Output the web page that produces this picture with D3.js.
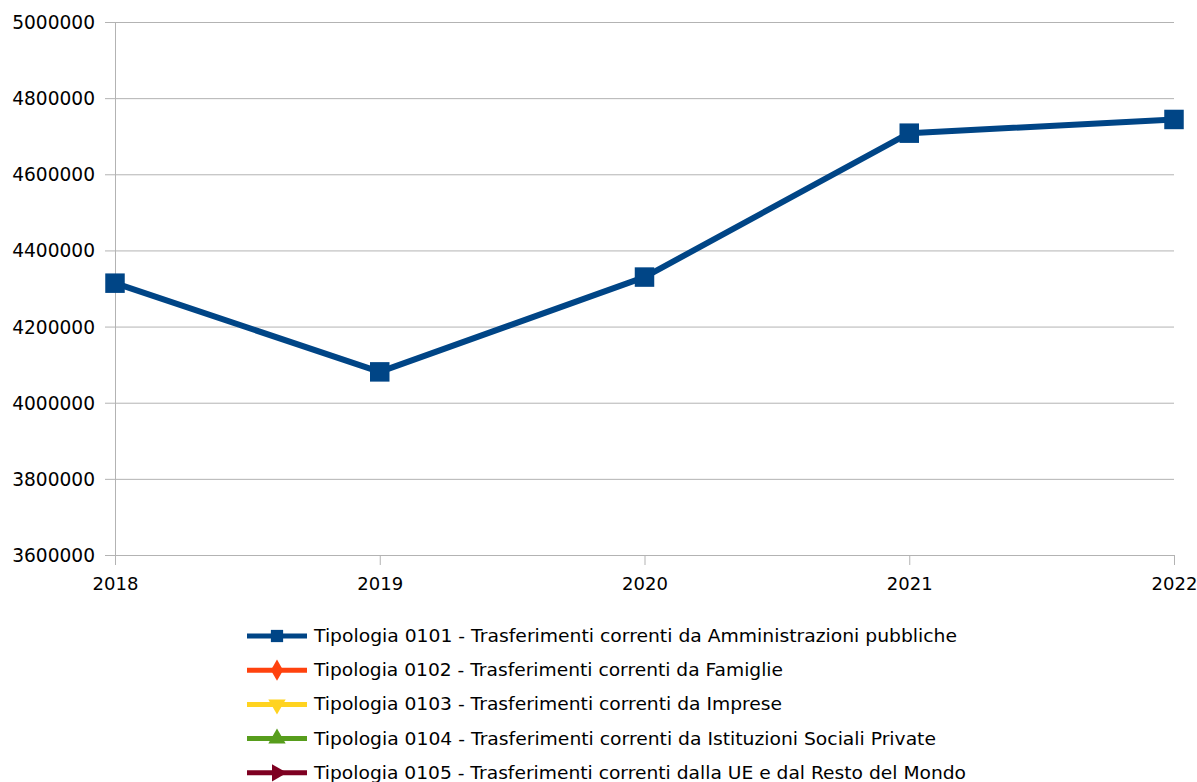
<!DOCTYPE html>
<html>
<head>
<meta charset="utf-8">
<script src="https://cdn.jsdelivr.net/npm/d3@7"></script>
<style>
	body { margin: 0; background: #fff; }
	svg { display: block; }
</style>
</head>
<body>
<svg id="chart" width="1197" height="782"></svg>
<script>
// chart data
const years = ["2018", "2019", "2020", "2021", "2022"];
const serie0101 = [4314000, 4081000, 4330000, 4708000, 4744000];
const serie0102 = [0, 0, 0, 0, 0];
const serie0103 = [0, 0, 0, 0, 0];
const serie0104 = [0, 0, 0, 0, 0];
const serie0105 = [0, 0, 0, 0, 0];
const yTicks = [3600000, 3800000, 4000000, 4200000, 4400000, 4600000, 4800000, 5000000];
const seriesNames = [
	"Tipologia 0101 - Trasferimenti correnti da Amministrazioni pubbliche",
	"Tipologia 0102 - Trasferimenti correnti da Famiglie",
	"Tipologia 0103 - Trasferimenti correnti da Imprese",
	"Tipologia 0104 - Trasferimenti correnti da Istituzioni Sociali Private",
	"Tipologia 0105 - Trasferimenti correnti dalla UE e dal Resto del Mondo"
];

const ctx = {
	left: 115, right: 1174, top: 22, bottom: 555,
	colors: ["#004586", "#ff420e", "#ffd320", "#579d1c", "#7e0021"],
	symbols: [d3.symbolSquare, d3.symbolDiamond, "down", d3.symbolTriangle, "right"],
	legendWidths: [643, 469, 468, 622, 652]
};
const allSeries = [serie0101, serie0102, serie0103, serie0104, serie0105];

let svg = d3.select("#chart");

let xscale = d3.scalePoint().domain(years).range([ctx.left, ctx.right]).padding(0);
let yscale = d3.scaleLinear().domain([3600000, 5000000]).range([ctx.bottom, ctx.top]);

svg.append("defs").append("clipPath").attr("id", "plotClip")
	.append("rect")
	.attr("x", ctx.left - 15).attr("y", ctx.top - 15)
	.attr("width", ctx.right - ctx.left + 30).attr("height", ctx.bottom - ctx.top + 15);

// y axis with grid
let yAxis = svg.append("g")
	.attr("transform", "translate(" + ctx.left + ",0)")
	.call(d3.axisLeft(yscale).tickValues(yTicks).tickSize(10).tickPadding(10).tickFormat(d3.format("d")));
yAxis.select(".domain").remove();
yAxis.selectAll(".tick line")
	.attr("x2", ctx.right - ctx.left)
	.attr("x1", -10)
	.attr("stroke", "#b3b3b3");
yAxis.selectAll(".tick text")
	.attr("font-family", "DejaVu Sans")
	.attr("font-size", 18.6)
	.attr("fill", "#000")
	.attr("dy", "0.35em");

// vertical axis line
svg.append("line")
	.attr("x1", ctx.left + 0.5).attr("x2", ctx.left + 0.5)
	.attr("y1", ctx.top).attr("y2", ctx.bottom + 10)
	.attr("stroke", "#b3b3b3");

// x axis
let xAxis = svg.append("g")
	.attr("transform", "translate(0," + ctx.bottom + ")")
	.call(d3.axisBottom(xscale).tickSize(10).tickPadding(12));
xAxis.select(".domain").remove();
xAxis.selectAll(".tick line").attr("stroke", "#b3b3b3");
xAxis.selectAll(".tick text")
	.attr("font-family", "DejaVu Sans")
	.attr("font-size", 18)
	.attr("fill", "#000");

function markerPath(sym, size) {
	if (sym === "down") {
		return d3.symbol(d3.symbolTriangle, size)().replace(/(-?[\d.]+),(-?[\d.]+)/g, (m, a, b) => a + "," + (-b));
	}
	if (sym === "right") {
		return d3.symbol(d3.symbolTriangle, size)().replace(/(-?[\d.]+),(-?[\d.]+)/g, (m, a, b) => (-b) + "," + a);
	}
	return d3.symbol(sym, size)();
}

// series
let plot = svg.append("g").attr("clip-path", "url(#plotClip)");
let line = d3.line().x((d, i) => xscale(years[i])).y(d => yscale(d));

allSeries.forEach(function (values, s) {
	plot.append("path")
		.datum(values)
		.attr("d", line)
		.attr("fill", "none")
		.attr("stroke", ctx.colors[s])
		.attr("stroke-width", 6)
		.attr("stroke-linejoin", "round");
	plot.selectAll(".m" + s)
		.data(values)
		.join("path")
		.attr("class", "m" + s)
		.attr("transform", (d, i) => "translate(" + xscale(years[i]) + "," + yscale(d) + ")")
		.attr("d", markerPath(ctx.symbols[s], 380))
		.attr("fill", ctx.colors[s]);
});

// legend
let legend = svg.append("g").attr("class", "legend");
seriesNames.forEach(function (name, s) {
	let y = 636 + s * 34.2;
	legend.append("line")
		.attr("x1", 247).attr("x2", 307)
		.attr("y1", y).attr("y2", y)
		.attr("stroke", ctx.colors[s])
		.attr("stroke-width", 5);
	legend.append("path")
		.attr("transform", "translate(277," + y + ")")
		.attr("d", markerPath(ctx.symbols[s], s === 0 ? 150 : 130))
		.attr("fill", ctx.colors[s]);
	legend.append("text")
		.attr("x", 314)
		.attr("y", y + 6)
		.attr("font-family", "DejaVu Sans")
		.attr("font-size", 17)
		.attr("textLength", ctx.legendWidths[s])
		.attr("lengthAdjust", "spacingAndGlyphs")
		.attr("fill", "#000")
		.text(name);
});
</script>
</body>
</html>
